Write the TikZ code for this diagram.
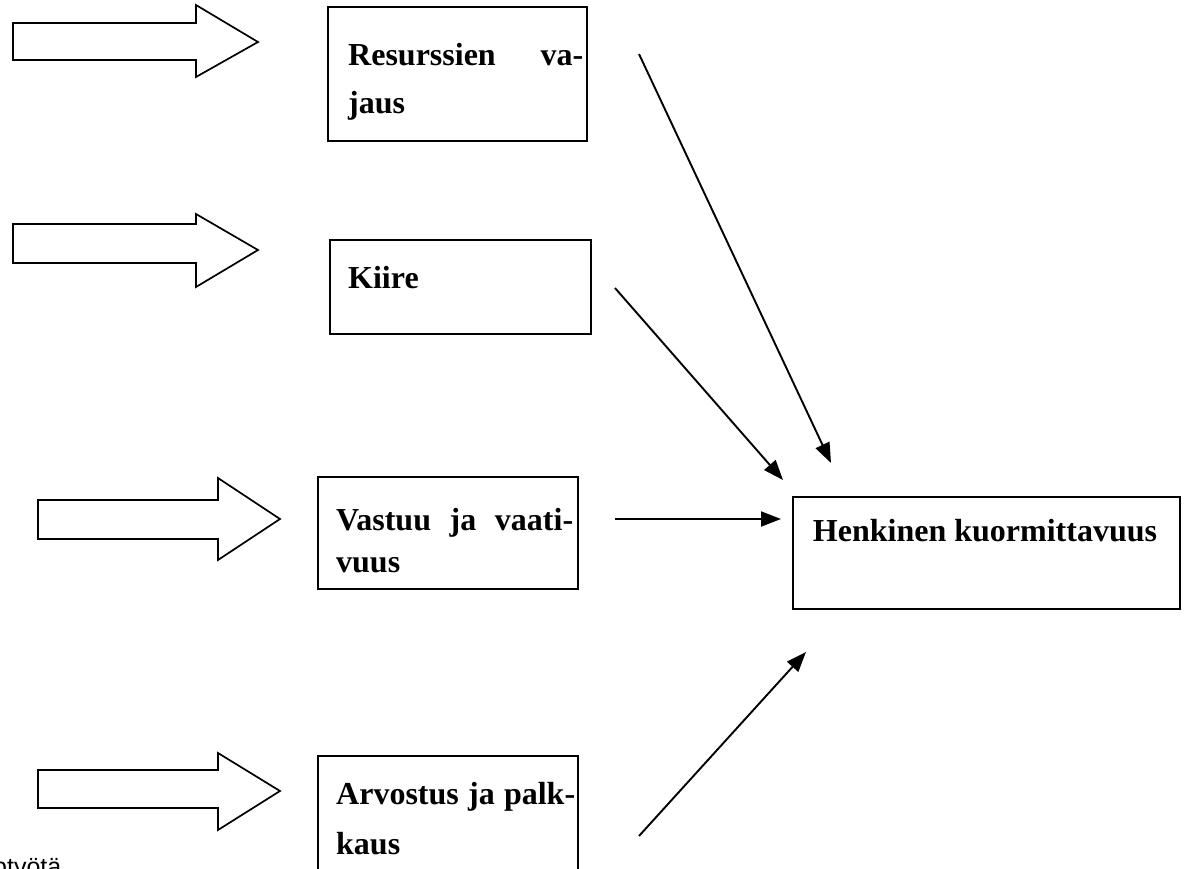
\documentclass[tikz,border=0pt]{standalone}
\usepackage{fontspec}
\setmainfont{Liberation Serif}
\newfontfamily\arialfont{Liberation Sans}
\usetikzlibrary{arrows.meta}
\tikzset{
  boxnode/.style={draw, line width=2pt, inner sep=0pt, anchor=north west},
  txt/.style={anchor=base west, inner sep=0pt, font=\fontsize{32}{38}\selectfont\bfseries},
  conn/.style={line width=1.9pt, -{Triangle[length=20pt,width=15pt]}},
  blockarrow/.style={draw, line width=1.7pt, line join=miter, fill=white}
}
\begin{document}
\begin{tikzpicture}[x=1pt,y=-1pt]
\useasboundingbox (0,0) rectangle (1189,869);
\clip (0,0) rectangle (1189,869);
% block arrows
\draw[blockarrow] (13,23) -- (196,23) -- (196,5) -- (258,42) -- (196,77) -- (196,60) -- (13,60) -- cycle;
\draw[blockarrow] (13,224) -- (196,224) -- (196,214) -- (258,250) -- (196,287) -- (196,263) -- (13,263) -- cycle;
\draw[blockarrow] (38,500) -- (218,500) -- (218,478) -- (280,519) -- (218,560) -- (218,539) -- (38,539) -- cycle;
\draw[blockarrow] (38,770) -- (218,770) -- (218,753) -- (280,791) -- (218,830) -- (218,808) -- (38,808) -- cycle;
% boxes
\node[boxnode, minimum width=259pt, minimum height=134pt] (b1) at (327,6) {};
\node[boxnode, minimum width=261pt, minimum height=94pt] (b2) at (329,239) {};
\node[boxnode, minimum width=260pt, minimum height=112pt] (b3) at (317,476) {};
\node[boxnode, minimum width=260pt, minimum height=160pt] (b4) at (317,755) {};
\node[boxnode, minimum width=387pt, minimum height=112pt] (b5) at (792,496) {};
% texts
\node[txt] (t1a) at (348,66) {\hbox to 235pt{Resurssien\hfill va-}};
\node[txt] (t1b) at (348,114) {jaus};
\node[txt] (t2) at (348,288) {Kiire};
\node[txt] (t3a) at (336,530) {\hbox to 237pt{Vastuu\hfill ja\hfill vaati-}};
\node[txt] (t3b) at (336,572) {vuus};
\node[txt] (t4a) at (336,804) {\hbox to 239pt{Arvostus\hfill ja\hfill palk-}};
\node[txt] (t4b) at (336,854) {kaus};
\node[txt, anchor=base] (t5) at (985,541) {Henkinen kuormittavuus};
\node[anchor=base west, inner sep=0pt, font=\arialfont\fontsize{25}{29}\selectfont] (foot) at (-7,875) {ptyötä};
% connectors
\coordinate (s1) at (639,54);
\coordinate (e1) at (831,463);
\coordinate (s2) at (615,288);
\coordinate (e2) at (783,480);
\coordinate (s3) at (615,519);
\coordinate (e3) at (781,519);
\coordinate (s4) at (639,836);
\coordinate (e4) at (806,652);
\draw[conn] (s1) -- (e1);
\draw[conn] (s2) -- (e2);
\draw[conn] (s3) -- (e3);
\draw[conn] (s4) -- (e4);
\end{tikzpicture}
\end{document}
